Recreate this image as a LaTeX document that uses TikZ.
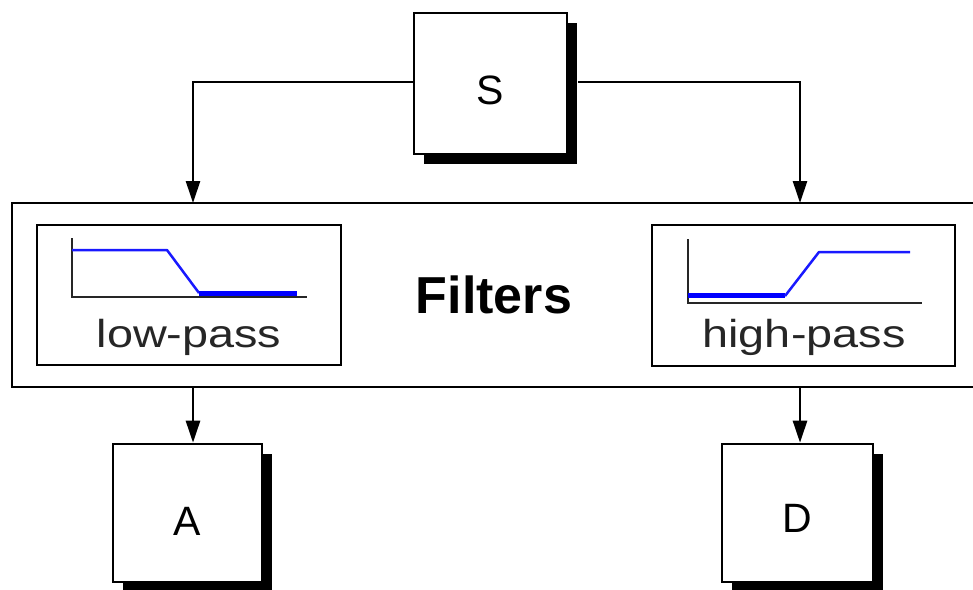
\documentclass[tikz,border=0pt]{standalone}
\usepackage{fontspec}
\setmainfont{Liberation Sans}
\newfontfamily\widesans[FakeStretch=1.2]{Liberation Sans}
\usetikzlibrary{arrows.meta,shadows}

\tikzset{
  blockbox/.style={draw, line width=2.6pt, fill=white, inner sep=0pt, text depth=0pt,
    drop shadow={shadow xshift=10pt, shadow yshift=-10pt, fill=black, opacity=1},
    font=\fontsize{41}{41}\selectfont},
  framebox/.style={draw, line width=2.6pt, inner sep=0pt},
  filterlabel/.style={inner sep=0pt, font=\widesans\fontsize{39}{39}\selectfont, text=black!85},
  conn/.style={line width=2.6pt, -{Triangle[length=22pt,width=14pt]}},
  axis/.style={line width=2.2pt, black!85},
  curve/.style={line width=2.5pt, blue!90!white},
  thickcurve/.style={line width=5pt, blue}
}

\begin{document}
\begin{tikzpicture}[x=1pt,y=-1pt]
  \useasboundingbox (0,0) rectangle (973,589);

  % source block
  \node[blockbox, text height=42pt, minimum width=153pt, minimum height=141pt] (S) at (490.5,83.5) {S};

  % filter bank frame
  \node[framebox, minimum width=964pt, minimum height=184pt,
        font=\bfseries\fontsize{52}{52}\selectfont] (filters) at (494,295) {Filters};

  % low-pass filter
  \node[framebox, minimum width=304pt, minimum height=140pt] (low) at (189,295) {};
  \node[filterlabel] (lowlabel) at (189,337) {low-pass};
  \draw[axis] (72,238) -- (72,298);
  \draw[axis] (72,297) -- (307,297);
  \draw[curve, line join=round] (72,250) -- (167,250) -- (199,293);
  \draw[thickcurve] (199,293) -- (297,293);

  % high-pass filter
  \node[framebox, minimum width=303pt, minimum height=141pt] (high) at (803.5,295.5) {};
  \node[filterlabel] (highlabel) at (804,337) {high-pass};
  \draw[axis] (688,239) -- (688,304);
  \draw[axis] (688,303) -- (922,303);
  \draw[thickcurve] (688,295.5) -- (785,295.5);
  \draw[curve, line join=round] (785,296) -- (819,252) -- (910,252);

  % output blocks
  \node[blockbox, text height=44pt, minimum width=149pt, minimum height=138pt] (A) at (187.5,513) {A};
  \node[blockbox, text height=38pt, minimum width=151pt, minimum height=138pt] (D) at (797.5,513) {D};

  % connector end points on the filter frame
  \coordinate (lowin)   at (193,203);
  \coordinate (highin)  at (800,203);
  \coordinate (lowout)  at (193,387);
  \coordinate (highout) at (800,387);

  % connectors
  \draw[conn] (S.west) ++(0,-1.5) -| (lowin);
  \draw[conn] (S.east) ++(10,-1.5) -| (highin);
  \draw[conn] (lowout) -- (A.north -| lowout);
  \draw[conn] (highout) -- (D.north -| highout);
\end{tikzpicture}
\end{document}
